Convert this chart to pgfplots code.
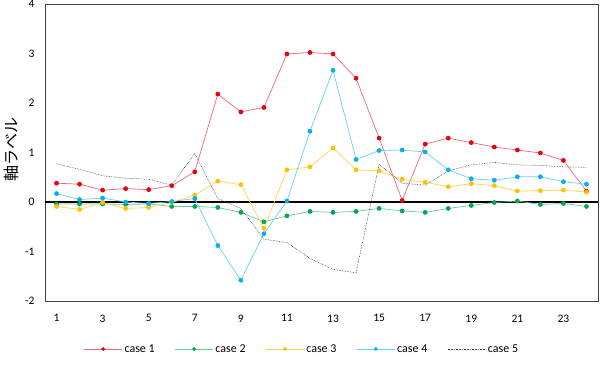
\documentclass[border=0pt]{standalone}
\usepackage{pgfplots}
\pgfplotsset{compat=1.18}
\usepackage{fontspec}
\setmainfont{Carlito}
\newfontfamily\cjk{Noto Sans CJK JP}
\definecolor{cRed}{RGB}{230,0,18}
\definecolor{cGreen}{RGB}{0,166,81}
\definecolor{cYellow}{RGB}{255,192,0}
\definecolor{cCyan}{RGB}{0,176,240}
\begin{document}
\begin{tikzpicture}
\path[use as bounding box] (-45pt,-67pt) rectangle (559pt,301pt);
\begin{axis}[
  at={(0,0)}, anchor=south west,
  scale only axis, width=553pt, height=297pt,
  xmin=0.5, xmax=24.5, ymin=-2, ymax=4,
  xtick={1,3,...,23}, ytick={-2,-1,...,4},
  major tick length=0pt,
  axis line style={black!75, line width=0.8pt},
  /pgf/number format/assume math mode=true,
  tick label style={font=\fontsize{11.5}{13}\selectfont, text=black},
  xticklabel style={yshift=-10pt},
  yticklabel style={xshift=-7pt},
  extra y ticks={0}, extra y tick labels={},
  extra y tick style={grid=major, major grid style={black, line width=1.1pt}},
  ylabel={\cjk 軸ラベル},
  ylabel style={at={(axis description cs:-0.060,0.51)}, anchor=center, font=\fontsize{16}{18}\selectfont},
  legend columns=5,
  legend style={at={(axis description cs:0.4647,-0.1616)}, anchor=center, draw=none, fill=none,
    font=\fontsize{12}{14}\selectfont, /tikz/every even column/.append style={column sep=18pt}},
  legend image code/.code={
    \draw[#1, mark=none] (0pt,0pt) -- (38pt,0pt);
    \draw[#1, draw=none, mark size=1.5pt] plot coordinates {(19pt,0pt)};
  },
]
\addplot[cRed!60!white, line width=0.7pt, mark=*, mark size=2pt, mark options={fill=cRed, draw=cRed, solid}] coordinates {
(1,0.38)(2,0.36)(3,0.24)(4,0.27)(5,0.25)(6,0.33)(7,0.61)(8,2.18)(9,1.82)(10,1.91)(11,2.99)(12,3.02)
(13,2.99)(14,2.50)(15,1.29)(16,0.03)(17,1.17)(18,1.29)(19,1.20)(20,1.11)(21,1.05)(22,0.99)(23,0.84)(24,0.22)};
\addlegendentry{case 1}
\addplot[cGreen!60!white, line width=0.7pt, mark=*, mark size=2pt, mark options={fill=cGreen, draw=cGreen, solid}] coordinates {
(1,-0.04)(2,-0.04)(3,-0.04)(4,-0.05)(5,-0.04)(6,-0.09)(7,-0.09)(8,-0.11)(9,-0.21)(10,-0.40)(11,-0.28)(12,-0.19)
(13,-0.21)(14,-0.19)(15,-0.13)(16,-0.18)(17,-0.21)(18,-0.13)(19,-0.07)(20,-0.01)(21,0.02)(22,-0.05)(23,-0.03)(24,-0.09)};
\addlegendentry{case 2}
\addplot[cYellow!70!white, line width=0.7pt, mark=*, mark size=2pt, mark options={fill=cYellow, draw=cYellow, solid}] coordinates {
(1,-0.09)(2,-0.15)(3,-0.01)(4,-0.13)(5,-0.11)(6,-0.01)(7,0.14)(8,0.42)(9,0.35)(10,-0.53)(11,0.65)(12,0.71)
(13,1.09)(14,0.65)(15,0.63)(16,0.46)(17,0.40)(18,0.31)(19,0.37)(20,0.33)(21,0.22)(22,0.23)(23,0.24)(24,0.20)};
\addlegendentry{case 3}
\addplot[cCyan!60!white, line width=0.7pt, mark=*, mark size=2pt, mark options={fill=cCyan, draw=cCyan, solid}] coordinates {
(1,0.17)(2,0.05)(3,0.08)(4,0.00)(5,-0.03)(6,0.01)(7,0.07)(8,-0.88)(9,-1.58)(10,-0.64)(11,0.02)(12,1.43)
(13,2.66)(14,0.86)(15,1.04)(16,1.05)(17,1.01)(18,0.65)(19,0.47)(20,0.44)(21,0.51)(22,0.51)(23,0.41)(24,0.36)};
\addlegendentry{case 4}
\addplot[black!75, line width=0.6pt, densely dotted, mark=none] coordinates {
(1,0.77)(2,0.66)(3,0.53)(4,0.48)(5,0.46)(6,0.34)(7,0.98)(8,0.07)(9,-0.13)(10,-0.75)(11,-0.82)(12,-1.14)
(13,-1.36)(14,-1.43)(15,0.76)(16,0.38)(17,0.34)(18,0.63)(19,0.75)(20,0.80)(21,0.75)(22,0.74)(23,0.71)(24,0.70)};
\addlegendentry{case 5}
\end{axis}
\end{tikzpicture}
\end{document}
